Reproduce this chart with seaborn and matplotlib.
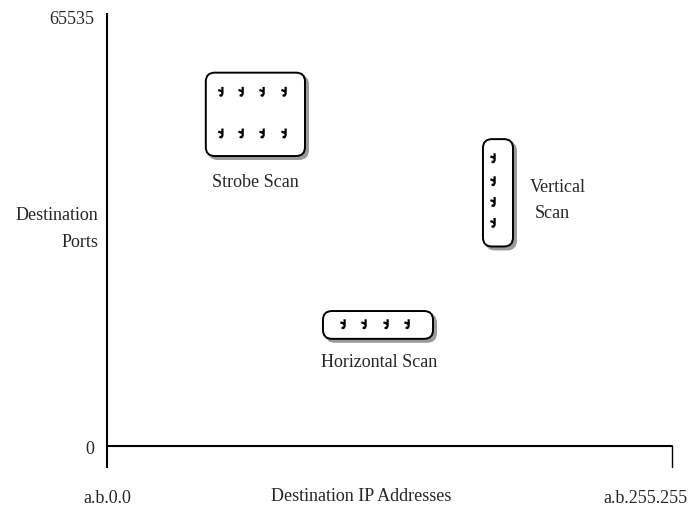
import matplotlib
matplotlib.use("Agg")
import matplotlib.pyplot as plt
import matplotlib.transforms as mtransforms
from matplotlib.patches import FancyBboxPatch
from matplotlib.path import Path
import seaborn as sns
import pandas as pd

# scan patterns: (destination IP index, destination port)
strobe_ip = [13200, 15550, 17980, 20530, 13200, 15550, 17980, 20530]
strobe_port = [54150, 54150, 54150, 54150, 47790, 47790, 47790, 47790]
vertical_ip = [44770, 44770, 44770, 44770]
vertical_port = [44000, 40500, 37320, 34130]
horizontal_ip = [27370, 29810, 32360, 34800]
horizontal_port = [18660, 18660, 18660, 18660]

scan_names = ["Strobe Scan", "Vertical Scan", "Horizontal Scan"]
ip_ticks = [0, 65535]
ip_tick_labels = ["a.b.0.0", "a.b.255.255"]
port_ticks = [0, 65535]
port_tick_labels = ["0", "65535"]

df = pd.DataFrame({
    "ip": strobe_ip + vertical_ip + horizontal_ip,
    "port": strobe_port + vertical_port + horizontal_port,
    "scan": [scan_names[0]] * 8 + [scan_names[1]] * 4 + [scan_names[2]] * 4,
})

sns.set_theme(style="white")
plt.rcParams["font.family"] = ["Liberation Serif", "DejaVu Serif"]

# small hooked glyph used as the probe marker
probe = Path([(0.35, 1.0), (0.35, -0.5), (0.1, -0.9), (-0.3, -0.75),
              (-0.55, 0.35), (0.35, 0.0)],
             [Path.MOVETO, Path.LINETO, Path.LINETO, Path.LINETO,
              Path.MOVETO, Path.LINETO])

fig = plt.figure(figsize=(6.9, 5.1), dpi=100)
ax = fig.add_axes([107 / 690, 42 / 510, 565 / 690, 453 / 510])

XMAX = 65535
PX_X = XMAX / 565          # data units per pixel
PX_Y = 65535 / 432
ax.set_xlim(0, XMAX)
ax.set_ylim(-21 * PX_Y, 65535 + 3 * PX_Y)

sns.scatterplot(data=df, x="ip", y="port", marker=probe, s=45,
                facecolor="none", edgecolor="black", linewidth=1.6,
                legend=False, ax=ax, zorder=4)

# rounded boxes with a drop shadow around each scan group (pads in px: l, r, b, t)
pads = {"Strobe Scan": (15, 21, 23, 19),
        "Vertical Scan": (10, 20, 24, 19),
        "Horizontal Scan": (20, 26, 15, 13)}
for name, g in df.groupby("scan"):
    l, r, b, t = pads[name]
    x0 = g["ip"].min() - l * PX_X
    x1 = g["ip"].max() + r * PX_X
    y0 = g["port"].min() - b * PX_Y
    y1 = g["port"].max() + t * PX_Y
    rad = 9 * PX_X
    for dx, dy, fc, ec in [(3, -3, "#9a9a9a", "#9a9a9a"), (0, 0, "white", "black")]:
        box = FancyBboxPatch((x0 + dx * PX_X, y0 + dy * PX_Y), x1 - x0, y1 - y0,
                             boxstyle=f"round,pad=0,rounding_size={rad}",
                             mutation_aspect=PX_Y / PX_X,
                             facecolor=fc, edgecolor=ec, linewidth=1.4, zorder=2)
        ax.add_patch(box)

# group labels
fs = 13
ax.text((255 - 107) * PX_X, (447 - 181) * PX_Y, "Strobe Scan",
        ha="center", va="center", fontsize=fs)
ax.text((530 - 107) * PX_X, (447 - 186) * PX_Y, "Vertical",
        ha="left", va="center", fontsize=fs)
ax.text((535 - 107) * PX_X, (447 - 212) * PX_Y, "Scan",
        ha="left", va="center", fontsize=fs)
ax.text((379 - 107) * PX_X, (447 - 362) * PX_Y, "Horizontal Scan",
        ha="center", va="center", fontsize=fs)

# axes lines
for side in ["top", "right", "bottom"]:
    ax.spines[side].set_visible(False)
ax.spines["left"].set_color("black")
ax.spines["left"].set_linewidth(1.5)
ax.plot([0, XMAX], [0, 0], color="black", lw=1.5, clip_on=False, zorder=3)
ax.plot([XMAX, XMAX], [-21 * PX_Y, 0], color="black", lw=1.0, clip_on=False)

ax.set_yticks(port_ticks)
ax.set_yticklabels(port_tick_labels, fontsize=fs)
ax.tick_params(axis="y", length=0, pad=9)
ax.set_xticks(ip_ticks)
ax.set_xticklabels(ip_tick_labels, fontsize=fs)
ax.tick_params(axis="x", length=0, pad=16)
last = ax.get_xticklabels()[-1]
last.set_ha("right")
last.set_transform(last.get_transform() +
                   mtransforms.ScaledTranslation(16 / 100, 0, fig.dpi_scale_trans))

ax.set_xlabel("")
ax.set_ylabel("")
fig.text(361 / 690, 1 - 497 / 510, "Destination IP Addresses",
         ha="center", va="center", fontsize=fs)
fig.text(98 / 690, 1 - 229 / 510, "Destination\nPorts", ha="right", va="center",
         multialignment="right", fontsize=fs, linespacing=1.7)

fig.savefig("out.png", dpi=100, facecolor="white")
